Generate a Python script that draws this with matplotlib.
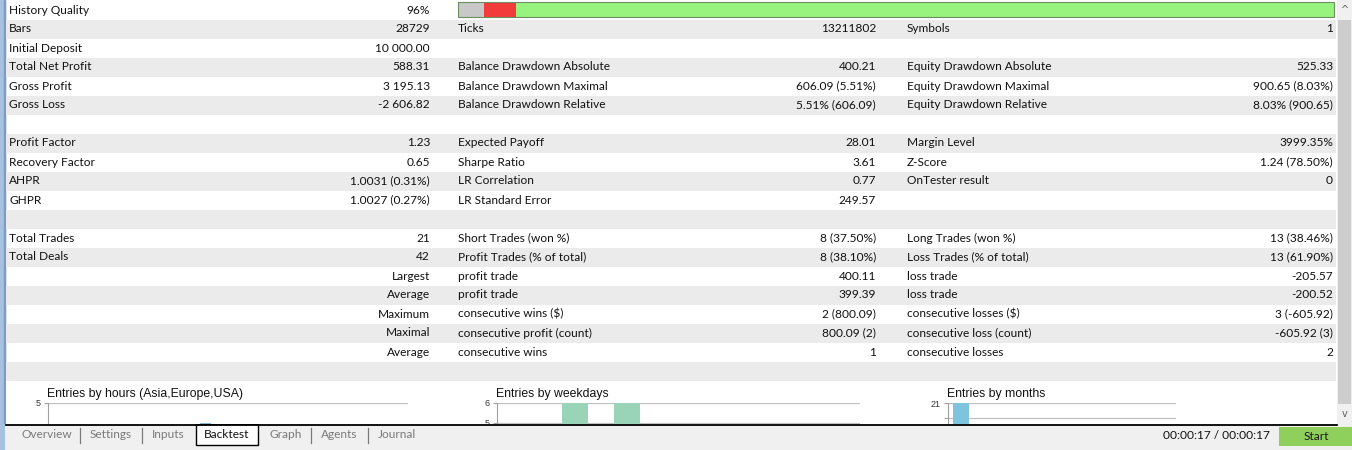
import numpy as np
import matplotlib.pyplot as plt
from matplotlib.patches import Rectangle

# === DATA ===
labels1 = ["History Quality", "Bars", "Initial Deposit", "Total Net Profit", "Gross Profit", "Gross Loss", "",
           "Profit Factor", "Recovery Factor", "AHPR", "GHPR", "",
           "Total Trades", "Total Deals", "", "", "", "", "", ""]
values1 = ["96%", "28729", "10 000.00", "588.31", "3 195.13", "-2 606.82", "",
           "1.23", "0.65", "1.0031 (0.31%)", "1.0027 (0.27%)", "",
           "21", "42", "Largest", "Average", "Maximum", "Maximal", "Average", ""]
labels2 = ["", "Ticks", "", "Balance Drawdown Absolute", "Balance Drawdown Maximal", "Balance Drawdown Relative", "",
           "Expected Payoff", "Sharpe Ratio", "LR Correlation", "LR Standard Error", "",
           "Short Trades (won %)", "Profit Trades (% of total)", "profit trade", "profit trade",
           "consecutive wins ($)", "consecutive profit (count)", "consecutive wins", ""]
values2 = ["", "13211802", "", "400.21", "606.09 (5.51%)", "5.51% (606.09)", "",
           "28.01", "3.61", "0.77", "249.57", "",
           "8 (37.50%)", "8 (38.10%)", "400.11", "399.39", "2 (800.09)", "800.09 (2)", "1", ""]
labels3 = ["", "Symbols", "", "Equity Drawdown Absolute", "Equity Drawdown Maximal", "Equity Drawdown Relative", "",
           "Margin Level", "Z-Score", "OnTester result", "", "",
           "Long Trades (won %)", "Loss Trades (% of total)", "loss trade", "loss trade",
           "consecutive losses ($)", "consecutive loss (count)", "consecutive losses", ""]
values3 = ["", "1", "", "525.33", "900.65 (8.03%)", "8.03% (900.65)", "",
           "3999.35%", "1.24 (78.50%)", "0", "", "",
           "13 (38.46%)", "13 (61.90%)", "-205.57", "-200.52", "3 (-605.92)", "-605.92 (3)", "2", ""]

# history quality bar segments (share of width)
quality_parts = [0.03, 0.036, 0.934]
quality_colors = ["#c8c8c8", "#f23c3c", "#98f27e"]

hours = list(range(24))
hours_counts = [0, 0, 0, 0, 0, 0, 0, 0, 2, 3, 4, 2, 1, 2, 3, 2, 1, 1, 0, 0, 0, 0, 0, 0]
weekdays = ["Sun", "Mon", "Tue", "Wed", "Thu", "Fri", "Sat"]
weekday_counts = [0, 6, 6, 4, 3, 2, 0]
months = list(range(1, 13))
month_counts = [21, 0, 0, 0, 0, 0, 0, 0, 0, 0, 0, 0]

tabs = ["Overview", "Settings", "Inputs", "Backtest", "Graph", "Agents", "Journal"]
timer_text = "00:00:17 / 00:00:17"

W, H = 1352, 450
FONT = "Lato"
fs = 8.6
row_h = 19

fig = plt.figure(figsize=(W / 100, H / 100), dpi=100)
bg = fig.add_axes([0, 0, 1, 1], zorder=0)
bg.set_xlim(0, W)
bg.set_ylim(H, 0)
bg.axis("off")

# === TABLE ===
bg.add_patch(Rectangle((0, 0), W, H, color="white"))
bg.add_patch(Rectangle((0, 0), 5, 424, color="#a7c1e0"))
bg.add_patch(Rectangle((4, 0), 1.2, 424, color="#7d9cc4"))
for i in range(len(labels1)):
    y0 = i * row_h + 0.5
    yc = y0 + row_h / 2
    if i % 2 == 1:
        bg.add_patch(Rectangle((6, y0), 1330, row_h, color="#ebebeb", lw=0))
    kw = dict(fontsize=fs, family=FONT, color="#111111", va="center")
    bg.text(9, yc, labels1[i], ha="left", **kw)
    bg.text(430, yc, values1[i], ha="right", **kw)
    bg.text(458, yc, labels2[i], ha="left", **kw)
    bg.text(876, yc, values2[i], ha="right", **kw)
    bg.text(907, yc, labels3[i], ha="left", **kw)
    bg.text(1333, yc, values3[i], ha="right", **kw)

# history quality bar
x0, bw = 458, 876
left = x0
for part, col in zip(quality_parts, quality_colors):
    bg.add_patch(Rectangle((left, 2), part * bw, 15, color=col, lw=0))
    left += part * bw
bg.add_patch(Rectangle((x0, 2), bw, 15, fill=False, ec="#6b8f5e", lw=0.8))

# white chart panel
bg.add_patch(Rectangle((6, 380.5), 1330, 44, color="white", lw=0))

# scrollbar
bg.add_patch(Rectangle((1337, 0), 15, 424, color="#f0f0f0", lw=0))
bg.add_patch(Rectangle((1338, 20), 13, 384, color="#cdcdcd", lw=0))
bg.text(1345, 10, "^", fontsize=7, ha="center", va="center", color="#606060")
bg.text(1345, 414, "v", fontsize=7, ha="center", va="center", color="#606060")

# === SMALL CHARTS ===
tfont = "Liberation Sans"


def small_chart(x_left, x_right, top, px_per_unit, ymax, yticks, ylabels, xs, counts, color, bar_w, title):
    height = ymax * px_per_unit
    ax = fig.add_axes([x_left / W, 1 - (top + height) / H, (x_right - x_left) / W, height / H], zorder=1)
    ax.set_facecolor("none")
    ax.bar(xs, counts, width=bar_w, color=color, zorder=2)
    ax.set_ylim(0, ymax)
    if isinstance(xs[0], str):
        ax.set_xlim(-0.5, len(xs) - 0.5)
    else:
        ax.set_xlim(xs[0] - 0.5, xs[-1] + 0.5)
    ax.set_yticks(yticks)
    ax.set_yticklabels(ylabels, fontsize=6.5, family=tfont, color="#333333")
    ax.set_xticks([])
    ax.grid(axis="y", color="#c0c0c0", lw=0.9, zorder=0)
    for s in ["top", "right", "bottom"]:
        ax.spines[s].set_visible(False)
    ax.spines["left"].set_color("#a0a0a0")
    ax.tick_params(axis="y", length=3, color="#a0a0a0", pad=2)
    bg.text(x_left - 1, top - 8.5, title, fontsize=8.8, family=tfont, color="#111111", va="center", ha="left")
    return ax


small_chart(48, 408, 403, 20, 5, [5], ["5"], hours, hours_counts, "#7fb8d8", 0.7,
            "Entries by hours (Asia,Europe,USA)")
small_chart(497, 860, 403, 20, 6, [5, 6], ["5", "6"], weekdays, weekday_counts, "#9ad4b8", 0.5,
            "Entries by weekdays")
ax_m = small_chart(948, 1176, 403, 15, 21, [20, 21], ["", "21"], months, month_counts, "#7ec4de", 0.85,
                   "Entries by months")
ax_m.set_xlim(0.3, 12.5)

# === FOOTER / TABS ===
ft = fig.add_axes([0, 0, 1, 26 / H], zorder=3)
ft.set_xlim(0, W)
ft.set_ylim(H, 424)
ft.axis("off")
ft.add_patch(Rectangle((0, 424), W, 26, color="#f0f0f0", lw=0))
ft.add_patch(Rectangle((0, 424), 5, 26, color="#a7c1e0", lw=0))
ft.plot([6, 1337], [424.6, 424.6], color="black", lw=1.3)

tab_x = [21, 90, 152, 204, 269, 321, 378]
for k, (name, tx) in enumerate(zip(tabs, tab_x)):
    if name == "Backtest":
        ft.add_patch(Rectangle((196, 424.5), 62, 21, fc="white", ec="black", lw=1.0))
        ft.text(tx, 435, name, fontsize=fs, family=FONT, color="#111111", va="center", ha="left")
    else:
        ft.text(tx, 435, name, fontsize=fs, family=FONT, color="#7a7a7a", va="center", ha="left")
    if k < len(tabs) - 1 and name != "Backtest" and tabs[k + 1] != "Backtest":
        sx = tab_x[k + 1] - 10
        ft.plot([sx, sx], [428, 443], color="#7a7a7a", lw=0.9)

ft.text(1270, 436, timer_text, fontsize=fs, family=FONT, color="#111111", va="center", ha="right")
ft.add_patch(Rectangle((1279, 427), 73, 19, color="#8fd05c", lw=0))
ft.text(1316, 436.5, "Start", fontsize=fs, family=FONT, color="#1a1a1a", va="center", ha="center")

fig.savefig("out.png", dpi=100)
